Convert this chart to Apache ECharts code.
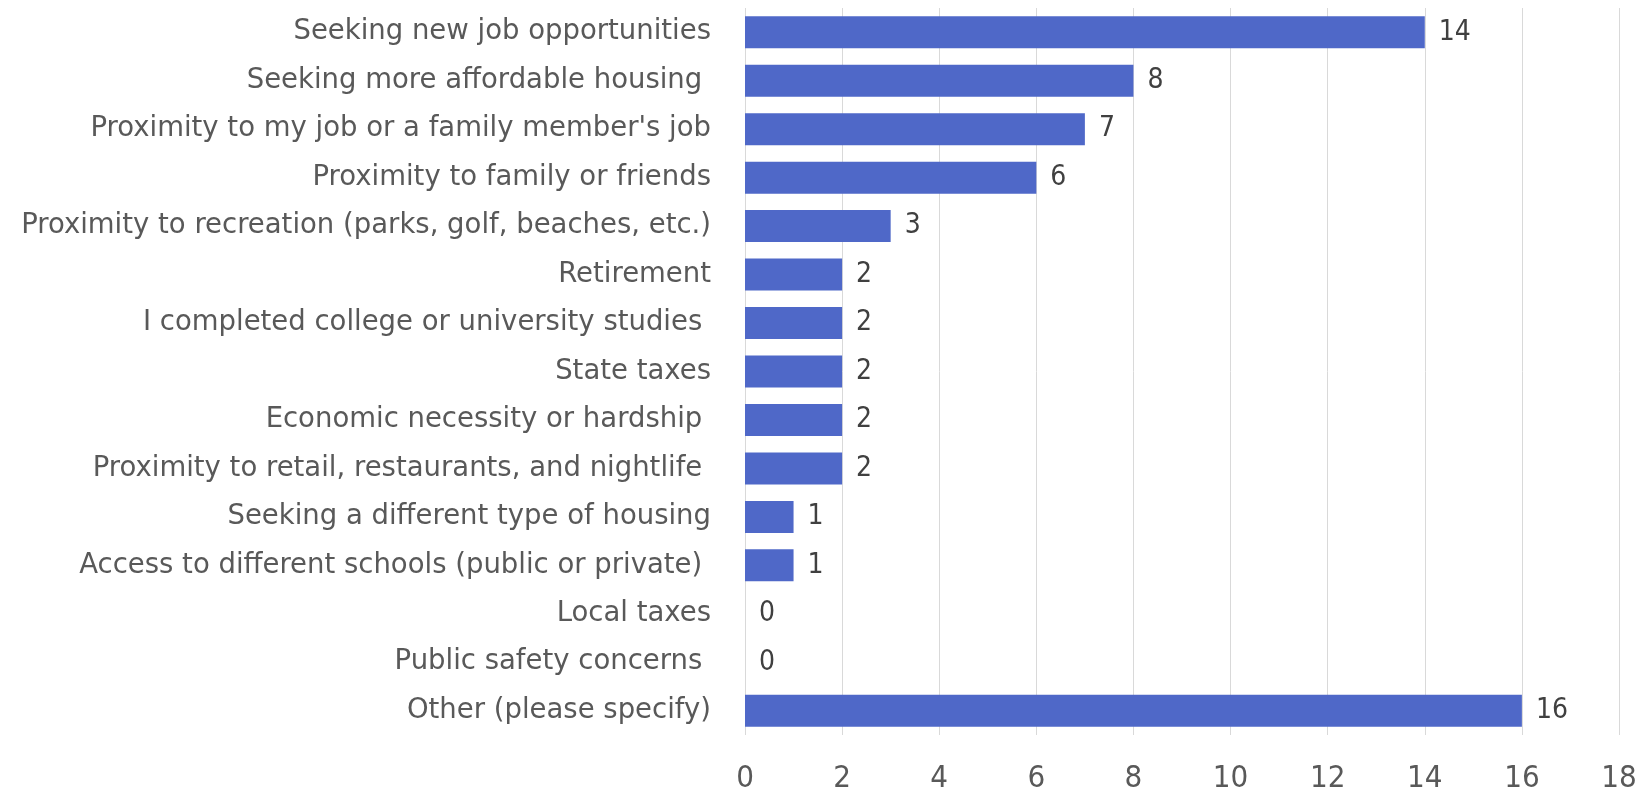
<!DOCTYPE html>
<html>
<head>
<meta charset="utf-8">
<style>
  html, body { margin: 0; padding: 0; background: #fff; }
  #chart { width: 1652px; height: 794px; }
</style>
<script src="https://cdn.jsdelivr.net/npm/echarts@6/dist/echarts.min.js"></script>
</head>
<body>
<div id="chart"></div>
<script>
// Reasons for moving, counted by response
const categories = [
  "Seeking new job opportunities",
  "Seeking more affordable housing ",
  "Proximity to my job or a family member's job",
  "Proximity to family or friends",
  "Proximity to recreation (parks, golf, beaches, etc.)",
  "Retirement",
  "I completed college or university studies ",
  "State taxes",
  "Economic necessity or hardship ",
  "Proximity to retail, restaurants, and nightlife ",
  "Seeking a different type of housing",
  "Access to different schools (public or private) ",
  "Local taxes",
  "Public safety concerns ",
  "Other (please specify)"
];
const responses = [14, 8, 7, 6, 3, 2, 2, 2, 2, 2, 1, 1, 0, 0, 16];
const xTicks = { min: 0, max: 18, interval: 2 };

const TEXT_FONT = "'DejaVu Sans', sans-serif";
const NUM_FONT = "'DejaVu Sans Condensed', 'DejaVu Sans', sans-serif";
const chart = echarts.init(document.getElementById('chart'));
chart.setOption({
  animation: false,
  grid: { left: 745, right: 33, top: 8, bottom: 56, containLabel: false },
  xAxis: {
    type: 'value',
    min: xTicks.min, max: xTicks.max, interval: xTicks.interval,
    axisLine: { show: false },
    axisTick: { show: false },
    splitLine: { show: true, lineStyle: { color: '#d9d9d9', width: 1 } },
    axisLabel: { color: '#595959', fontSize: 31, fontFamily: NUM_FONT, margin: 28 }
  },
  yAxis: {
    type: 'category',
    data: categories,
    inverse: true,
    axisLine: { show: false },
    axisTick: { show: false },
    splitLine: { show: false },
    axisLabel: {
      color: '#595959', fontSize: 27.5, fontFamily: TEXT_FONT, margin: 34,
      padding: [5, 0, 0, 0]
    }
  },
  series: [{
    type: 'bar',
    data: responses,
    barWidth: '66%',
    itemStyle: { color: '#4f68c8' },
    label: {
      show: true, position: 'right', distance: 14,
      color: '#404040', fontSize: 28, fontFamily: NUM_FONT,
      padding: [4, 0, 0, 0]
    }
  }]
});
</script>
</body>
</html>
